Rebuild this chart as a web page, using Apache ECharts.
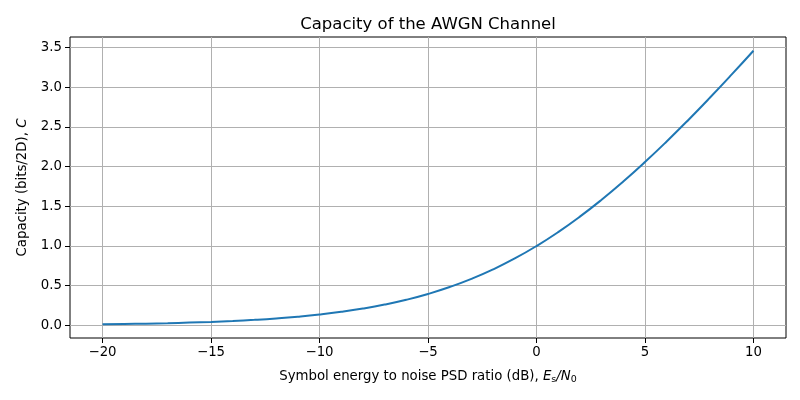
<!DOCTYPE html>
<html><head><meta charset="utf-8">
<script src="https://cdn.jsdelivr.net/npm/echarts@6/dist/echarts.min.js"></script>
<style>html,body{margin:0;padding:0;background:#fff}#c{width:800px;height:400px}</style>
</head><body><div id="c"></div>
<script>
// Es/N0 in dB
var snrDb = [-20,-19,-18,-17,-16,-15,-14,-13,-12,-11,-10,-9,-8,-7,-6,-5,-4,-3,-2,-1,0,1,2,3,4,5,6,7,8,9,10];
// Capacity (bits/2D)
var capacity = [0.0144,0.0181,0.0227,0.0285,0.0358,0.0449,0.0563,0.0706,0.0883,0.1103,0.1375,0.1711,0.2123,0.2625,0.3233,0.3964,0.4835,0.5861,0.7057,0.8434,1.0000,1.1756,1.3701,1.5827,1.8123,2.0574,2.3165,2.5878,2.8698,3.1608,3.4594];
var xTicks = [-20,-15,-10,-5,0,5,10];
var yTicks = [0,0.5,1.0,1.5,2.0,2.5,3.0,3.5];

var font = 'DejaVu Sans';
var chart = echarts.init(document.getElementById('c'));
chart.setOption({
  animation:false,
  backgroundColor:'#fff',
  title:{text:'Capacity of the AWGN Channel',left:423,textAlign:'center',top:11,textStyle:{fontFamily:font,fontSize:16.5,fontWeight:'normal',color:'#000'}},
  grid:{left:70,right:14,top:37,bottom:62,show:true,borderColor:'#000',borderWidth:1,backgroundColor:'transparent'},
  xAxis:{type:'value',min:-21.5,max:11.5,
    axisLine:{show:false,onZero:false},
    axisTick:{show:true,customValues:xTicks,length:5,lineStyle:{color:'#000'}},
    axisLabel:{customValues:xTicks,fontFamily:font,fontSize:13.3,color:'#000',margin:8,
      formatter:function(v){return (v<0?'\u2212'+(-v):String(v));}},
    splitLine:{show:true,lineStyle:{color:'#b0b0b0',width:1}},
    name:'Symbol energy to noise PSD ratio (dB), {i|E}{sub|s}{n|/}{i|N}{sub|0}',
    nameLocation:'middle',nameGap:31,
    nameTextStyle:{fontFamily:font,fontSize:13.3,color:'#000',
      rich:{i:{fontFamily:font,fontSize:13.3,fontStyle:'italic',color:'#000'},
            n:{fontFamily:font,fontSize:13.3,fontStyle:'italic',color:'#000'},
            sub:{fontFamily:font,fontSize:9.5,color:'#000',padding:[6,0,0,0]}}}
  },
  yAxis:{type:'value',min:-0.158,max:3.632,
    axisLine:{show:false,onZero:false},
    axisTick:{show:true,customValues:yTicks,length:5,lineStyle:{color:'#000'}},
    axisLabel:{customValues:yTicks,fontFamily:font,fontSize:13.3,color:'#000',margin:8,
      formatter:function(v){return v.toFixed(1);}},
    splitLine:{show:true,lineStyle:{color:'#b0b0b0',width:1}},
    name:'Capacity (bits/2D), {i|C}',
    nameLocation:'middle',nameGap:41,nameRotate:90,
    nameTextStyle:{fontFamily:font,fontSize:13.3,color:'#000',
      rich:{i:{fontFamily:font,fontSize:13.3,fontStyle:'italic',color:'#000'}}}
  },
  series:[{type:'line',data:snrDb.map(function(x,i){return [x,capacity[i]];}),
    smooth:true,showSymbol:false,lineStyle:{color:'#1f77b4',width:2},itemStyle:{color:'#1f77b4'}}]
});
</script></body></html>
